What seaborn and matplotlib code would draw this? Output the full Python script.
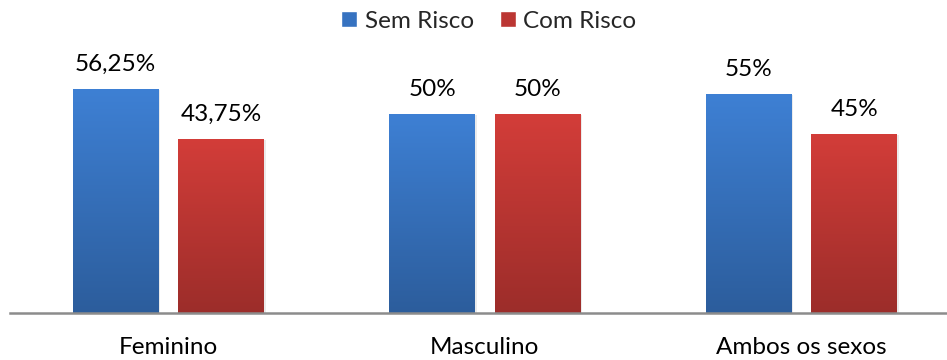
import numpy as np
import pandas as pd
import matplotlib
matplotlib.use("Agg")
import matplotlib.pyplot as plt
import seaborn as sns
from matplotlib.colors import LinearSegmentedColormap
from matplotlib.patches import Patch

categories = ["Feminino", "Masculino", "Ambos os sexos"]
series = ["Sem Risco", "Com Risco"]
sem_risco = [56.25, 50, 55]
com_risco = [43.75, 50, 45]

df = pd.DataFrame({
    "cat": categories * 2,
    "serie": [series[0]] * 3 + [series[1]] * 3,
    "val": sem_risco + com_risco,
})

sns.set_theme(style="white")
plt.rcParams['font.family'] = ['Lato', 'DejaVu Sans']

fig = plt.figure(figsize=(9.47, 3.6), dpi=100)
ax = fig.add_axes([10 / 947, 1 - 313 / 360, 937 / 947, 313 / 360])

pal = {"Sem Risco": "#3672c0", "Com Risco": "#bb3633"}
sns.barplot(data=df, x="cat", y="val", hue="serie", order=categories,
            hue_order=series, palette=pal, width=0.667, gap=0.19,
            legend=False, ax=ax, saturation=1)

grads = {
    "Sem Risco": ("#3e80d4", "#2c5d9c"),
    "Com Risco": ("#d33d39", "#9c2d2a"),
}
for cont, s in zip(ax.containers, series):
    cmap = LinearSegmentedColormap.from_list(s, [grads[s][1], grads[s][0]])
    for bar in cont:
        x0, y0 = bar.get_x(), bar.get_y()
        w, h = bar.get_width(), bar.get_height()
        bar.set_facecolor("none")
        bar.set_edgecolor("none")
        img = ax.imshow(np.linspace(0, 1, 256).reshape(-1, 1), cmap=cmap,
                        origin="lower", aspect="auto",
                        extent=[x0, x0 + w, y0, y0 + h], zorder=2)
        img.set_clip_path(bar)
        ax.add_patch(plt.Rectangle((x0 + 0.006, y0), w, h - 0.3,
                                   facecolor="#000000", alpha=0.08,
                                   edgecolor="none", zorder=1.5))
    labels = [f"{v:g}".replace(".", ",") + "%" for v in cont.datavalues]
    ax.bar_label(cont, labels=labels, padding=10, fontsize=17.5, color="#000000")

ax.set_aspect("auto")
ax.set_xlim(-0.5, 2.46)
ax.set_ylim(0, 313 / 3.98)
ax.set_xlabel("")
ax.set_ylabel("")
ax.set_yticks([])
ax.tick_params(axis="x", length=0, pad=17, labelsize=17.5, labelcolor="#000000")
for sp in ["top", "right", "left"]:
    ax.spines[sp].set_visible(False)
ax.spines["bottom"].set_color("#8c8c8c")
ax.spines["bottom"].set_linewidth(1.8)

handles = [Patch(facecolor="#3672c0", label=series[0]),
           Patch(facecolor="#bb3633", label=series[1])]
fig.legend(handles=handles, loc="center", bbox_to_anchor=(489 / 947, 1 - 21 / 360),
           ncol=2, frameon=False, fontsize=17.5, handlelength=0.65,
           handleheight=0.65, handletextpad=0.3, columnspacing=1.1)

fig.savefig("out.png", dpi=100)
